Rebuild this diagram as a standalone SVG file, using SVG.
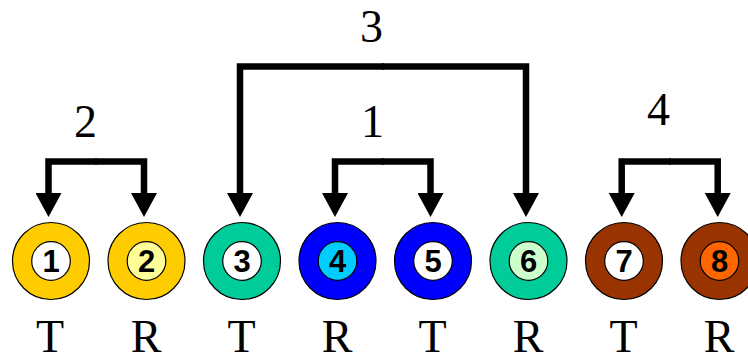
<svg xmlns="http://www.w3.org/2000/svg" width="748" height="361" viewBox="0 0 748 361">
<style>
.line{fill:none;stroke:#000;stroke-width:6.5;stroke-linejoin:miter;stroke-linecap:butt}
.ring{stroke:#000;stroke-width:1.2}
.num{font-family:"Liberation Sans",Arial,sans-serif;font-weight:bold;font-size:31px;text-anchor:middle;fill:#000}
.lbl{font-family:"Liberation Serif","Times New Roman",serif;font-size:46px;text-anchor:middle;fill:#000}
</style>
<defs>
<marker id="ah" viewBox="0 0 24 26" refX="0" refY="13" markerWidth="24" markerHeight="26" markerUnits="userSpaceOnUse" orient="auto">
<path d="M0,0 L24,13 L0,26 Z" fill="#000"/>
</marker>
</defs>
<rect width="748" height="361" fill="#fff"/>
<g id="connectors">
<path class="line" d="M97,161.5 H48.5 V193" marker-end="url(#ah)"/>
<path class="line" d="M95,161.5 H144 V193" marker-end="url(#ah)"/>
<path class="line" d="M384,66.5 H240 V193" marker-end="url(#ah)"/>
<path class="line" d="M382,66.5 H526 V193" marker-end="url(#ah)"/>
<path class="line" d="M384,161.5 H335 V193" marker-end="url(#ah)"/>
<path class="line" d="M382,161.5 H430.5 V193" marker-end="url(#ah)"/>
<path class="line" d="M671,161.5 H621.7 V193" marker-end="url(#ah)"/>
<path class="line" d="M669,161.5 H717.7 V193" marker-end="url(#ah)"/>
</g>
<g id="labels">
<text class="lbl" x="85.5" y="137">2</text>
<text class="lbl" x="371.5" y="42">3</text>
<text class="lbl" x="372.5" y="137">1</text>
<text class="lbl" x="658.5" y="125">4</text>
</g>
<g id="node1"><circle class="ring" cx="51" cy="261" r="38.5" fill="#FFCC00"/><circle class="ring" cx="51" cy="261" r="19.3" fill="#FFFFFF"/><text class="num" x="51" y="272">1</text><text class="lbl" x="50" y="352">T</text></g>
<g id="node2"><circle class="ring" cx="146.5" cy="261" r="38.5" fill="#FFCC00"/><circle class="ring" cx="146.5" cy="261" r="19.3" fill="#FFFF99"/><text class="num" x="146.5" y="272">2</text><text class="lbl" x="146" y="352">R</text></g>
<g id="node3"><circle class="ring" cx="242" cy="261" r="38.5" fill="#00CC99"/><circle class="ring" cx="242" cy="261" r="19.3" fill="#FFFFFF"/><text class="num" x="242" y="272">3</text><text class="lbl" x="241.5" y="352">T</text></g>
<g id="node4"><circle class="ring" cx="337.5" cy="261" r="38.5" fill="#0000FF"/><circle class="ring" cx="337.5" cy="261" r="19.3" fill="#00CCFF"/><text class="num" x="337.5" y="272">4</text><text class="lbl" x="337" y="352">R</text></g>
<g id="node5"><circle class="ring" cx="433" cy="261" r="38.5" fill="#0000FF"/><circle class="ring" cx="433" cy="261" r="19.3" fill="#FFFFFF"/><text class="num" x="433" y="272">5</text><text class="lbl" x="432.5" y="352">T</text></g>
<g id="node6"><circle class="ring" cx="528.5" cy="261" r="38.5" fill="#00CC99"/><circle class="ring" cx="528.5" cy="261" r="19.3" fill="#CCFFCC"/><text class="num" x="528.5" y="272">6</text><text class="lbl" x="528" y="352">R</text></g>
<g id="node7"><circle class="ring" cx="624" cy="261" r="38.5" fill="#993300"/><circle class="ring" cx="624" cy="261" r="19.3" fill="#FFFFFF"/><text class="num" x="624" y="272">7</text><text class="lbl" x="623.5" y="352">T</text></g>
<g id="node8"><circle class="ring" cx="719.5" cy="261" r="38.5" fill="#993300"/><circle class="ring" cx="719.5" cy="261" r="19.3" fill="#FF6600"/><text class="num" x="719.5" y="272">8</text><text class="lbl" x="719" y="352">R</text></g>
</svg>
